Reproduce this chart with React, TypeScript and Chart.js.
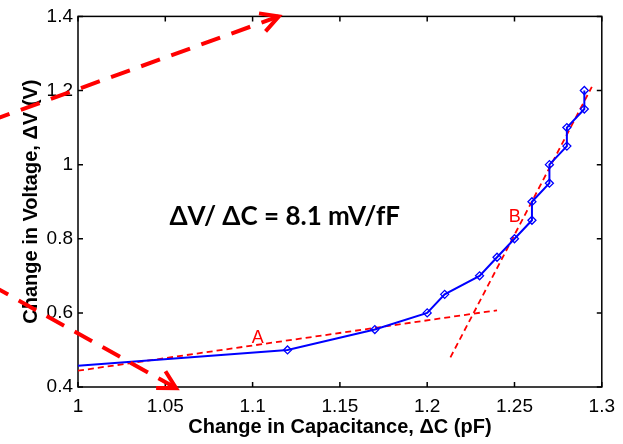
import React, { useEffect, useRef } from "react";
import { Chart, registerables } from "chart.js";

Chart.register(...registerables);

// ---- data ----
const capacitance = [1.0, 1.12, 1.17, 1.2, 1.21, 1.23, 1.24, 1.25, 1.26, 1.26, 1.27, 1.27, 1.28, 1.28, 1.29, 1.29];
const voltage = [0.457, 0.5, 0.555, 0.6, 0.65, 0.7, 0.75, 0.8, 0.85, 0.9, 0.95, 1.0, 1.05, 1.1, 1.15, 1.2];

const fitAX = [1.0, 1.24];
const fitAY = [0.444, 0.607];
const fitBX = [1.2133, 1.2943];
const fitBY = [0.48, 1.21];

const arrowUpX = [0.95, 1.115];
const arrowUpY = [1.1185, 1.4];
const arrowDownX = [0.95, 1.0562];
const arrowDownY = [0.6757, 0.397];

const xTicks = [1, 1.05, 1.1, 1.15, 1.2, 1.25, 1.3];
const yTicks = [0.4, 0.6, 0.8, 1, 1.2, 1.4];

const xTitle = "Change in Capacitance, \u0394C (pF)";
const yTitle = "Change in Voltage, \u0394V (V)";
const slopeLabel = "\u0394V/ \u0394C = 8.1 mV/fF";
const labelA = "A";
const labelB = "B";

const toXY = (xs: number[], ys: number[]) => xs.map((x, i) => ({ x, y: ys[i] }));

const RED = "#ff0000";
const BLUE = "#0000ff";
const SANS = "'Liberation Sans', Arial, Helvetica, sans-serif";

const framePlugin = {
  id: "frame",
  beforeDatasetsDraw(chart: any) {
    const { ctx, chartArea: a, scales } = chart;
    ctx.save();
    ctx.strokeStyle = "#000";
    ctx.lineWidth = 1.5;
    ctx.strokeRect(a.left, a.top, a.right - a.left, a.bottom - a.top);
    ctx.beginPath();
    const t = 5;
    xTicks.forEach((v) => {
      const px = scales.x.getPixelForValue(v);
      ctx.moveTo(px, a.bottom);
      ctx.lineTo(px, a.bottom - t);
      ctx.moveTo(px, a.top);
      ctx.lineTo(px, a.top + t);
    });
    yTicks.forEach((v) => {
      const py = scales.y.getPixelForValue(v);
      ctx.moveTo(a.left, py);
      ctx.lineTo(a.left + t, py);
      ctx.moveTo(a.right, py);
      ctx.lineTo(a.right - t, py);
    });
    ctx.stroke();
    ctx.restore();
  },
  afterDatasetsDraw(chart: any) {
    const { ctx, scales } = chart;
    const X = (v: number) => scales.x.getPixelForValue(v);
    const Y = (v: number) => scales.y.getPixelForValue(v);
    ctx.save();
    // arrowheads
    const head = (xs: number[], ys: number[]) => {
      const n = xs.length;
      const x1 = X(xs[n - 2]), y1 = Y(ys[n - 2]);
      const x2 = X(xs[n - 1]), y2 = Y(ys[n - 1]);
      const ang = Math.atan2(y2 - y1, x2 - x1);
      const len = 20;
      const spread = 0.5;
      ctx.beginPath();
      ctx.moveTo(x2 + len * Math.cos(ang + Math.PI - spread), y2 + len * Math.sin(ang + Math.PI - spread));
      ctx.lineTo(x2, y2);
      ctx.lineTo(x2 + len * Math.cos(ang + Math.PI + spread), y2 + len * Math.sin(ang + Math.PI + spread));
      ctx.stroke();
    };
    ctx.strokeStyle = RED;
    ctx.lineWidth = 4;
    ctx.setLineDash([]);
    head(arrowUpX, arrowUpY);
    head(arrowDownX, arrowDownY);

    // slope text
    ctx.fillStyle = "#000";
    ctx.font = "bold 26px Lato, 'Open Sans', sans-serif";
    ctx.textAlign = "left";
    ctx.textBaseline = "alphabetic";
    ctx.fillText(slopeLabel, X(1.0524), Y(0.8367));

    // A / B labels
    ctx.fillStyle = RED;
    ctx.font = `18px ${SANS}`;
    ctx.textAlign = "center";
    ctx.fillText(labelA, X(1.103), Y(0.5186));
    ctx.fillText(labelB, X(1.2502), Y(0.8447));
    ctx.restore();
  },
};

export default function App() {
  const ref = useRef<HTMLCanvasElement | null>(null);

  useEffect(() => {
    document.body.style.margin = "0";
    const canvas = ref.current;
    if (!canvas) return;
    const tickFont = { family: SANS, size: 19 };
    const titleFont = { family: SANS, size: 20, weight: "bold" as const };

    const chart = new Chart(canvas, {
      type: "scatter",
      data: {
        datasets: [
          {
            label: "arrow up",
            data: toXY(arrowUpX, arrowUpY),
            showLine: true,
            borderColor: RED,
            borderWidth: 4,
            borderDash: [20, 12],
            pointRadius: 0,
            clip: false as any,
            order: 0,
          },
          {
            label: "arrow down",
            data: toXY(arrowDownX, arrowDownY),
            showLine: true,
            borderColor: RED,
            borderWidth: 4,
            borderDash: [20, 12],
            pointRadius: 0,
            clip: false as any,
            order: 0,
          },
          {
            label: "measured",
            data: toXY(capacitance, voltage),
            showLine: true,
            borderColor: BLUE,
            borderWidth: 2,
            pointStyle: "rectRot",
            pointRadius: capacitance.map((_, i) => (i === 0 ? 0 : 4)),
            pointBorderColor: BLUE,
            pointBorderWidth: 1.3,
            pointBackgroundColor: "rgba(255,255,255,0)",
            order: 1,
          },
          {
            label: "fit A",
            data: toXY(fitAX, fitAY),
            showLine: true,
            borderColor: RED,
            borderWidth: 1.8,
            borderDash: [6, 4],
            pointRadius: 0,
            order: 2,
          },
          {
            label: "fit B",
            data: toXY(fitBX, fitBY),
            showLine: true,
            borderColor: RED,
            borderWidth: 1.8,
            borderDash: [6, 4],
            pointRadius: 0,
            order: 2,
          },
        ],
      },
      options: {
        responsive: false,
        animation: false,
        layout: { padding: { top: 16, right: 18, left: 0, bottom: 0 } },
        plugins: { legend: { display: false }, tooltip: { enabled: false } },
        scales: {
          x: {
            type: "linear",
            min: 1,
            max: 1.3,
            afterBuildTicks: (s: any) => {
              s.ticks = xTicks.map((v) => ({ value: v }));
            },
            afterFit: (s: any) => {
              s.height = 57;
            },
            grid: { display: false, drawTicks: false },
            border: { display: false },
            ticks: {
              font: tickFont,
              color: "#000",
              padding: 8,
              maxRotation: 0,
              autoSkip: false,
              callback: (v: any) => String(Math.round(Number(v) * 100) / 100),
            },
            title: {
              display: true,
              text: xTitle,
              font: titleFont,
              color: "#000",
              padding: { top: 0, bottom: 5 },
            },
          },
          y: {
            type: "linear",
            min: 0.4,
            max: 1.4,
            afterBuildTicks: (s: any) => {
              s.ticks = yTicks.map((v) => ({ value: v }));
            },
            afterFit: (s: any) => {
              s.width = 78;
            },
            grid: { display: false, drawTicks: false },
            border: { display: false },
            ticks: {
              font: tickFont,
              color: "#000",
              padding: 5,
              autoSkip: false,
              callback: (v: any) => String(Math.round(Number(v) * 10) / 10),
            },
            title: {
              display: true,
              text: yTitle,
              font: titleFont,
              color: "#000",
              padding: { top: 19, bottom: 0 },
            },
          },
        },
      },
      plugins: [framePlugin],
    });
    return () => chart.destroy();
  }, []);

  return (
    <div style={{ width: 623, height: 444 }}>
      <canvas ref={ref} width={623} height={444} style={{ display: "block" }} />
    </div>
  );
}
